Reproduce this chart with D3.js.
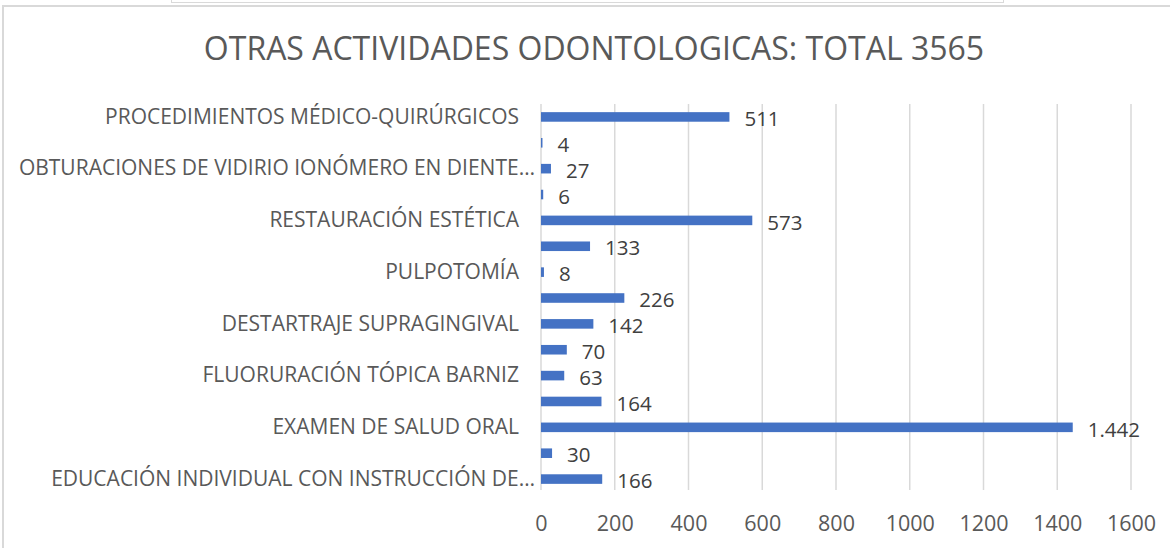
<!DOCTYPE html>
<html>
<head>
<meta charset="utf-8">
<script src="https://cdn.jsdelivr.net/npm/d3@7"></script>
<style>
  html, body { margin: 0; padding: 0; background: #ffffff; }
  svg { display: block; }
</style>
</head>
<body>
<svg id="chart" width="1170" height="548"></svg>
<script>
// Activity categories, listed from the bottom bar to the top bar.
// Only every other category name is printed on the axis; the rest stay blank.
const categories = [
  "EDUCACIÓN INDIVIDUAL CON INSTRUCCIÓN DE…",
  "",
  "EXAMEN DE SALUD ORAL",
  "",
  "FLUORURACIÓN TÓPICA BARNIZ",
  "",
  "DESTARTRAJE SUPRAGINGIVAL",
  "",
  "PULPOTOMÍA",
  "",
  "RESTAURACIÓN ESTÉTICA",
  "",
  "OBTURACIONES DE VIDIRIO IONÓMERO EN DIENTE…",
  "",
  "PROCEDIMIENTOS MÉDICO-QUIRÚRGICOS"
];
const values = [166, 30, 1442, 164, 63, 70, 142, 226, 8, 133, 573, 6, 27, 4, 511];
const xTicks = [0, 200, 400, 600, 800, 1000, 1200, 1400, 1600];
const titleText = "OTRAS ACTIVIDADES ODONTOLOGICAS: TOTAL 3565";

const FONT = "'Open Sans', 'Noto Sans', sans-serif";
const svg = d3.select("#chart").attr("font-family", FONT);
const W = 1170, H = 548;
const plot = { left: 541, right: 1131, top: 104, bottom: 492 };

// Spanish number format: dot as thousands separator
const esLocale = d3.formatLocale({ decimal: ",", thousands: ".", grouping: [3], currency: ["", " €"] });
const fmt = esLocale.format(",d");

// Outer frame and the strip of the element above it
svg.append("rect")
  .attr("x", 171.5).attr("y", -4).attr("width", 832).attr("height", 6.5)
  .attr("fill", "none").attr("stroke", "#d9d9d9").attr("stroke-width", 1);
svg.append("rect")
  .attr("x", 3).attr("y", 6).attr("width", W + 10).attr("height", H + 10)
  .attr("fill", "#ffffff").attr("stroke", "#d9d9d9").attr("stroke-width", 2);

const x = d3.scaleLinear().domain([0, 1600]).range([plot.left, plot.right]);
const idx = d3.range(categories.length);
const y = d3.scaleBand().domain(idx).range([plot.bottom, plot.top]).paddingInner(0.63).paddingOuter(0.315);

// Vertical gridlines
svg.append("g")
  .selectAll("line")
  .data(xTicks)
  .join("line")
  .attr("x1", d => x(d)).attr("x2", d => x(d))
  .attr("y1", plot.top).attr("y2", plot.bottom - 2)
  .attr("stroke", "#d9d9d9").attr("stroke-width", 1.5);

// Value axis labels
const xAxis = d3.axisBottom(x).tickValues(xTicks).tickSize(0).tickPadding(0).tickFormat(d3.format("d"));
const gx = svg.append("g").attr("transform", `translate(0, ${plot.bottom})`).call(xAxis)
  .attr("font-family", FONT).attr("font-size", 21.5);
gx.select(".domain").remove();
gx.selectAll("text")
  .attr("y", 31).attr("dy", "0.35em")
  .attr("fill", "#595959");

// Category axis labels
const yAxis = d3.axisLeft(y).tickSize(0).tickPadding(0).tickFormat(i => categories[i]);
const gy = svg.append("g").attr("transform", `translate(${plot.left}, 0)`).call(yAxis)
  .attr("font-family", FONT).attr("font-size", 21);
gy.select(".domain").remove();
gy.selectAll("text")
  .attr("x", i => categories[i].endsWith("…") ? -6 : -22)
  .attr("fill", "#595959");

// Bars
svg.append("g")
  .selectAll("rect")
  .data(idx)
  .join("rect")
  .attr("x", x(0))
  .attr("y", i => y(i))
  .attr("width", i => x(values[i]) - x(0))
  .attr("height", y.bandwidth())
  .attr("fill", "#4472c4");

// Value labels
svg.append("g")
  .attr("font-size", 20.5)
  .selectAll("text")
  .data(idx)
  .join("text")
  .attr("x", i => x(values[i]) + 15)
  .attr("y", i => y(i) + y.bandwidth() / 2 + 2)
  .attr("dy", "0.35em")
  .attr("fill", "#404040")
  .text(i => fmt(values[i]));

// Title
svg.append("text")
  .attr("x", 594).attr("y", 49).attr("dy", "0.35em")
  .attr("text-anchor", "middle")
  .attr("fill", "#595959")
  .attr("font-size", 32)
  .text(titleText);
</script>
</body>
</html>
